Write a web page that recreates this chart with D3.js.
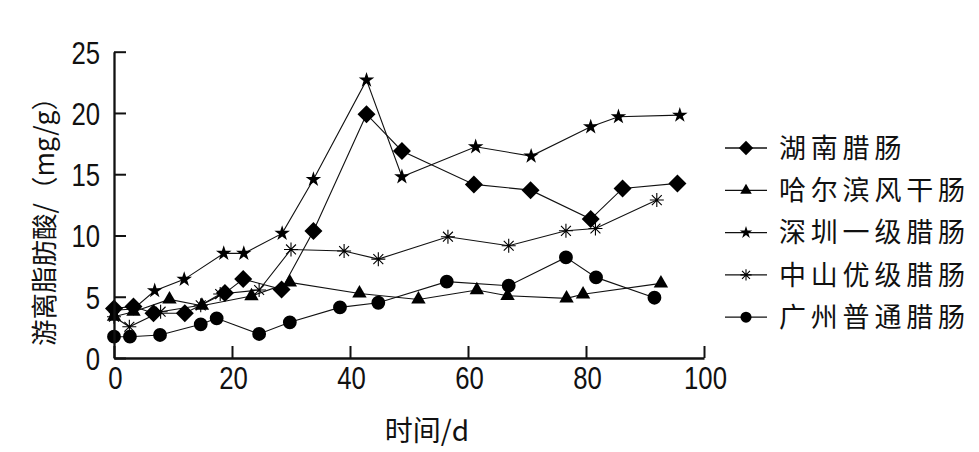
<!DOCTYPE html>
<html>
<head>
<meta charset="utf-8">
<script src="https://cdn.jsdelivr.net/npm/d3@7"></script>
<style>
  html, body { margin: 0; padding: 0; background: #fff; }
  svg { display: block; }
</style>
</head>
<body>
<svg id="chart" width="979" height="452"></svg>
<script>
// ---- data ----
const seriesNames = ["湖南腊肠", "哈尔滨风干肠", "深圳一级腊肠", "中山优级腊肠", "广州普通腊肠"];

const hunanX = [0, 3.3, 6.7, 12, 18.8, 21.9, 28.4, 33.8, 42.8, 48.8, 61.0, 70.6, 80.8, 86.2, 95.5];
const hunanY = [4.05, 4.2, 3.65, 3.65, 5.3, 6.44, 5.6, 10.36, 19.9, 16.9, 14.17, 13.7, 11.34, 13.84, 14.25];

const harbinX = [0, 3.3, 9.4, 14.9, 23.3, 29.8, 41.6, 51.6, 61.5, 66.7, 76.7, 79.5, 92.7];
const harbinY = [3.37, 3.78, 4.78, 4.27, 5.06, 6.17, 5.27, 4.78, 5.55, 5.08, 4.87, 5.2, 6.09];

const shenzhenX = [0, 3.3, 6.9, 11.9, 18.6, 22.0, 28.5, 33.8, 42.8, 48.8, 61.3, 70.7, 80.8, 85.5, 95.9];
const shenzhenY = [3.9, 4.0, 5.49, 6.42, 8.54, 8.54, 10.17, 14.57, 22.68, 14.79, 17.24, 16.48, 18.87, 19.69, 19.82];

const zhongshanX = [0, 2.6, 7.9, 14.7, 18.0, 24.6, 30.0, 39.0, 44.8, 56.6, 66.9, 76.6, 81.6, 92.0];
const zhongshanY = [3.37, 2.55, 3.78, 4.3, 5.22, 5.55, 8.86, 8.73, 8.07, 9.9, 9.16, 10.38, 10.57, 12.89];

const guangzhouX = [0, 2.7, 7.8, 14.7, 17.4, 24.6, 29.8, 38.3, 44.8, 56.4, 66.9, 76.6, 81.7, 91.6];
const guangzhouY = [1.74, 1.74, 1.88, 2.75, 3.24, 1.96, 2.91, 4.13, 4.51, 6.23, 5.9, 8.21, 6.58, 4.92];

const xTicks = [0, 20, 40, 60, 80, 100];
const yTicks = [0, 5, 10, 15, 20, 25];
const xLabel = "时间/d";
const yLabel = "游离脂肪酸/（mg/g）";
const markerTypes = ["diamond", "triangle", "star", "asterisk", "circle"];

// ---- setup ----
const svg = d3.select("#chart");
const x = d3.scaleLinear().domain([0, 100]).range([114, 704]);
const y = d3.scaleLinear().domain([0, 25]).range([358, 51.7]);

const numFont = "'Liberation Sans', Arial, sans-serif";
const cjkFont = "'Noto Sans CJK SC', 'Noto Sans', sans-serif";

const seriesX = [hunanX, harbinX, shenzhenX, zhongshanX, guangzhouX];
const seriesY = [hunanY, harbinY, shenzhenY, zhongshanY, guangzhouY];
const series = seriesNames.map((name, i) => ({
  name,
  marker: markerTypes[i],
  points: seriesX[i].map((xv, j) => ({ x: xv, y: seriesY[i][j] }))
}));

function markerPath(type, s) {
  if (type === "diamond") {
    const r = 9 * s;
    return `M0,${-r}L${r},0L0,${r}L${-r},0Z`;
  }
  if (type === "triangle") {
    return d3.symbol().type(d3.symbolTriangle).size(90 * s * s)();
  }
  if (type === "star") {
    return d3.symbol().type(d3.symbolStar).size(75 * s * s)();
  }
  if (type === "circle") {
    return d3.symbol().type(d3.symbolCircle).size(150 * s * s)();
  }
  if (type === "asterisk") {
    const r = 7 * s, d = r * 0.7071;
    return `M0,${-r}L0,${r}M${-r},0L${r},0M${-d},${-d}L${d},${d}M${-d},${d}L${d},${-d}`;
  }
}

function drawMarker(g, type, px, py, s) {
  const p = g.append("path")
    .attr("d", markerPath(type, s))
    .attr("transform", `translate(${px},${py})`);
  if (type === "asterisk") {
    p.attr("fill", "none").attr("stroke", "#000").attr("stroke-width", 1.1);
  } else {
    p.attr("fill", "#000").attr("stroke", "none");
  }
}

// ---- lines ----
const line = d3.line().x(d => x(d.x)).y(d => y(d.y));
const linesG = svg.append("g");
series.forEach(s => {
  linesG.append("path")
    .attr("d", line(s.points))
    .attr("fill", "none")
    .attr("stroke", "#111")
    .attr("stroke-width", 1.1);
});

// ---- markers ----
const marksG = svg.append("g");
series.forEach(s => {
  s.points.forEach(p => drawMarker(marksG, s.marker, x(p.x), y(p.y), 1));
});

// ---- axes ----
const xAxis = d3.axisBottom(x).tickValues(xTicks).tickSizeInner(-12).tickSizeOuter(0);
const yAxis = d3.axisLeft(y).tickValues(yTicks).tickSizeInner(-12).tickSizeOuter(0);

const gx = svg.append("g").attr("transform", `translate(0,${y(0)})`).call(xAxis);
const gy = svg.append("g").attr("transform", `translate(${x(0)},0)`).call(yAxis);

[gx, gy].forEach(g => {
  g.select(".domain").attr("stroke", "#111").attr("stroke-width", 2.3);
  g.selectAll(".tick line").attr("stroke", "#111").attr("stroke-width", 2);
  g.selectAll(".tick text").attr("fill", "#111")
    .style("font-family", numFont).style("font-size", "31px")
    .attr("x", 0).attr("y", 0).attr("dy", null);
});
// condensed numerals
gx.selectAll(".tick text").attr("text-anchor", "middle")
  .attr("transform", "translate(1,31.3) scale(0.83,1)");
gy.selectAll(".tick text").attr("text-anchor", "end")
  .attr("transform", "translate(-14,11.5) scale(0.83,1)");

// ---- axis titles ----
svg.append("text")
  .attr("x", 427).attr("y", 441)
  .attr("text-anchor", "middle")
  .style("font-family", cjkFont).style("font-size", "28px").attr("fill", "#111")
  .text(xLabel);

svg.append("text")
  .attr("transform", `translate(44,215) rotate(-90)`)
  .attr("text-anchor", "middle")
  .attr("dy", "0.38em")
  .style("font-family", cjkFont).style("font-size", "26.5px").attr("fill", "#111")
  .text(yLabel);

// ---- legend ----
const legendG = svg.append("g");
series.forEach((s, i) => {
  const cy = 148 + i * 42.3;
  legendG.append("line")
    .attr("x1", 725).attr("x2", 767).attr("y1", cy).attr("y2", cy)
    .attr("stroke", "#111").attr("stroke-width", 1.3);
  drawMarker(legendG, s.marker, 746, cy, 0.8);
  legendG.append("text")
    .attr("x", 779).attr("y", cy).attr("dy", "0.36em")
    .style("font-family", cjkFont).style("font-size", "27px")
    .style("letter-spacing", "4.8px")
    .attr("fill", "#111")
    .text(s.name);
});
</script>
</body>
</html>
